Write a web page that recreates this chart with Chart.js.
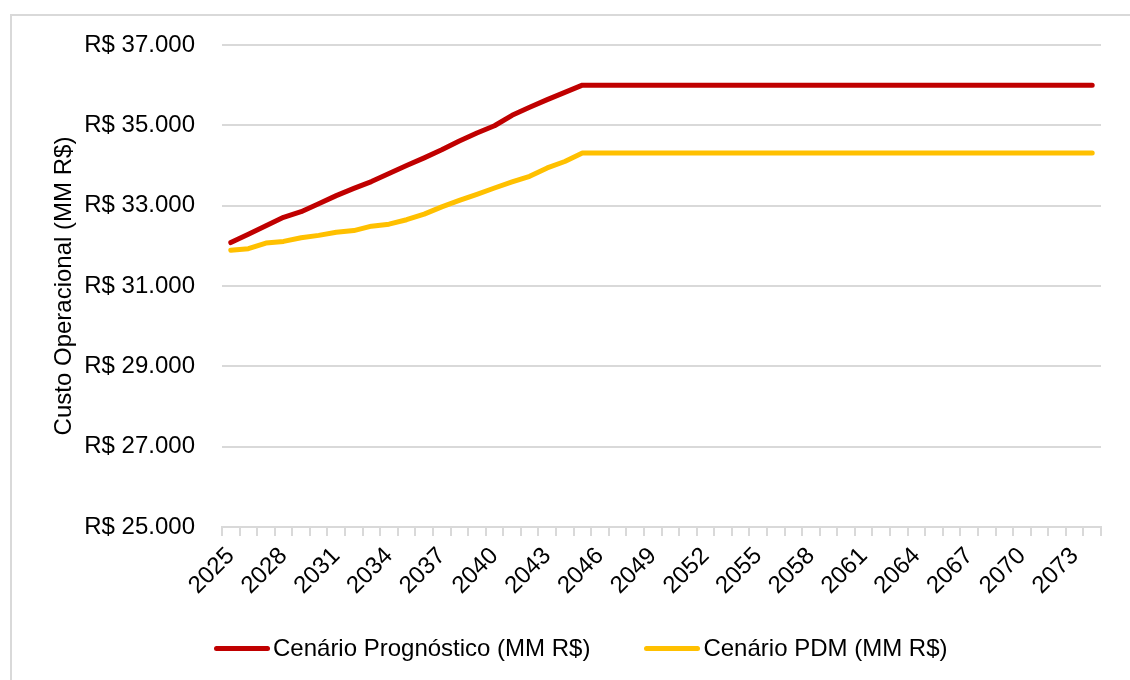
<!DOCTYPE html>
<html lang="pt-BR">
<head>
<meta charset="utf-8">
<title>Custo Operacional</title>
<script src="https://cdn.jsdelivr.net/npm/chart.js@4"></script>
<style>
  html, body { margin: 0; padding: 0; background: #fff; }
  #wrap { position: relative; width: 1130px; height: 680px; overflow: hidden; }
  #frame { position: absolute; left: 10px; top: 14px; width: 1200px; height: 800px;
           border-left: 2px solid #d9d9d9; border-top: 2px solid #d9d9d9; }
  #chartCusto { position: absolute; left: 0; top: 0; }
  #legenda { position: absolute; left: 214px; top: 634px; display: flex; align-items: center;
             font-family: 'Liberation Sans', Arial, sans-serif;
             font-size: 24px; color: #000; white-space: nowrap; }
  .leg-item { display: flex; align-items: center; margin-right: 54px; }
  .leg-line { width: 56px; height: 5px; border-radius: 3px; margin-right: 3px; }
</style>
</head>
<body>
<div id="wrap">
  <div id="frame"></div>
  <canvas id="chartCusto" width="1130" height="680"></canvas>
  <div id="legenda"></div>
</div>
<script>
const anos = [
  '2025', '2026', '2027', '2028', '2029', '2030', '2031', '2032', '2033', '2034',
  '2035', '2036', '2037', '2038', '2039', '2040', '2041', '2042', '2043', '2044',
  '2045', '2046', '2047', '2048', '2049', '2050', '2051', '2052', '2053', '2054',
  '2055', '2056', '2057', '2058', '2059', '2060', '2061', '2062', '2063', '2064',
  '2065', '2066', '2067', '2068', '2069', '2070', '2071', '2072', '2073', '2074'
];

const cenarioPrognostico = [
  32080, 32290, 32500, 32710, 32850, 33050, 33250, 33430, 33600, 33800,
  34000, 34190, 34390, 34610, 34810, 34990, 35250, 35450, 35640, 35820,
  36000, 36000, 36000, 36000, 36000, 36000, 36000, 36000, 36000, 36000,
  36000, 36000, 36000, 36000, 36000, 36000, 36000, 36000, 36000, 36000,
  36000, 36000, 36000, 36000, 36000, 36000, 36000, 36000, 36000, 36000
];

const cenarioPDM = [
  31890, 31930, 32070, 32110, 32200, 32260, 32340, 32380, 32490, 32540,
  32650, 32790, 32970, 33130, 33280, 33440, 33590, 33730, 33940, 34100,
  34310, 34310, 34310, 34310, 34310, 34310, 34310, 34310, 34310, 34310,
  34310, 34310, 34310, 34310, 34310, 34310, 34310, 34310, 34310, 34310,
  34310, 34310, 34310, 34310, 34310, 34310, 34310, 34310, 34310, 34310
];

const yMin = 25000;
const yMax = 37000;
const yPasso = 2000;

const FONTE = "'Liberation Sans', Arial, sans-serif";
const CINZA = '#d9d9d9';

function _fmtReal(v) {
  return 'R$ ' + String(v).replace(/\B(?=(\d{3})+(?!\d))/g, '.');
}

const series = [
  { label: 'Cenário Prognóstico (MM R$)', data: cenarioPrognostico, cor: '#c00000' },
  { label: 'Cenário PDM (MM R$)', data: cenarioPDM, cor: '#ffc000' }
];

const ctx = document.getElementById('chartCusto').getContext('2d');
const chart = new Chart(ctx, {
  type: 'line',
  data: {
    labels: anos,
    datasets: series.map(s => ({
      label: s.label,
      data: s.data,
      borderColor: s.cor,
      backgroundColor: s.cor,
      borderWidth: 5,
      borderCapStyle: 'round',
      borderJoinStyle: 'round',
      pointRadius: 0,
      tension: 0,
      fill: false
    }))
  },
  options: {
    responsive: false,
    animation: false,
    layout: { padding: { top: 45, right: 29, bottom: 0, left: 0 } },
    plugins: {
      legend: { display: false },
      tooltip: { enabled: false }
    },
    scales: {
      x: {
        type: 'category',
        offset: true,
        afterFit: (s) => { s.height = 153; },
        border: { display: true, color: CINZA, width: 2 },
        grid: {
          offset: true,
          drawOnChartArea: false,
          drawTicks: true,
          tickLength: 9,
          color: CINZA,
          tickColor: CINZA,
          lineWidth: 2
        },
        ticks: {
          autoSkip: false,
          minRotation: 45,
          maxRotation: 45,
          padding: 6,
          color: '#000',
          font: { family: FONTE, size: 24 },
          callback: function (val, i) { return i % 3 === 0 ? this.getLabelForValue(val) : ''; }
        }
      },
      y: {
        min: yMin,
        max: yMax,
        afterFit: (s) => { s.width = 222; },
        border: { display: false },
        grid: { color: CINZA, lineWidth: 2, drawTicks: false },
        ticks: {
          stepSize: yPasso,
          padding: 27,
          color: '#000',
          font: { family: FONTE, size: 24 },
          callback: (v) => _fmtReal(v)
        },
        title: {
          display: true,
          text: 'Custo Operacional (MM R$)',
          color: '#000',
          font: { family: FONTE, size: 24 },
          padding: { top: 50, bottom: 0 }
        }
      }
    }
  }
});

// legenda em HTML, montada a partir dos datasets
const leg = document.getElementById('legenda');
chart.data.datasets.forEach(ds => {
  const item = document.createElement('div');
  item.className = 'leg-item';
  const linha = document.createElement('span');
  linha.className = 'leg-line';
  linha.style.background = ds.borderColor;
  const txt = document.createElement('span');
  txt.textContent = ds.label;
  item.appendChild(linha);
  item.appendChild(txt);
  leg.appendChild(item);
});
</script>
</body>
</html>
